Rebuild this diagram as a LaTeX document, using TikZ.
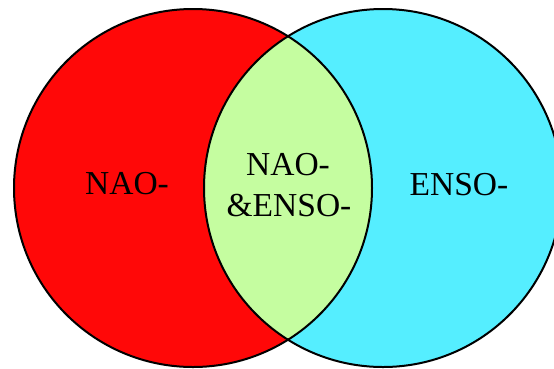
\documentclass[tikz,border=0pt]{standalone}
\usepackage{fontspec}
\setmainfont{Liberation Serif}
\definecolor{vred}{RGB}{255,8,8}
\definecolor{vcyan}{RGB}{85,238,255}
\definecolor{vgreen}{RGB}{197,253,160}
\begin{document}
\begin{tikzpicture}[x=1pt,y=-1pt,
  lbl/.style={anchor=base,inner sep=0pt,font=\fontsize{33.5}{40}\selectfont},
  outline/.style={draw=black,line width=2pt}]
\useasboundingbox (0,0) rectangle (554,368);
\coordinate (cl) at (193,188);
\coordinate (cr) at (383,188);
\fill[vred] (cl) circle[radius=179];
\fill[vcyan] (cr) circle[radius=179];
\begin{scope}
  \clip (cl) circle[radius=179];
  \fill[vgreen] (cr) circle[radius=179];
\end{scope}
\draw[outline] (cl) circle[radius=179];
\draw[outline] (cr) circle[radius=179];
\node[lbl] (nao) at (127,194.7) {NAO-};
\node[lbl] (both1) at (288,175.7) {NAO-};
\node[lbl] (both2) at (289,216.7) {\&ENSO-};
\node[lbl] (enso) at (459,195.7) {ENSO-};
\end{tikzpicture}
\end{document}
